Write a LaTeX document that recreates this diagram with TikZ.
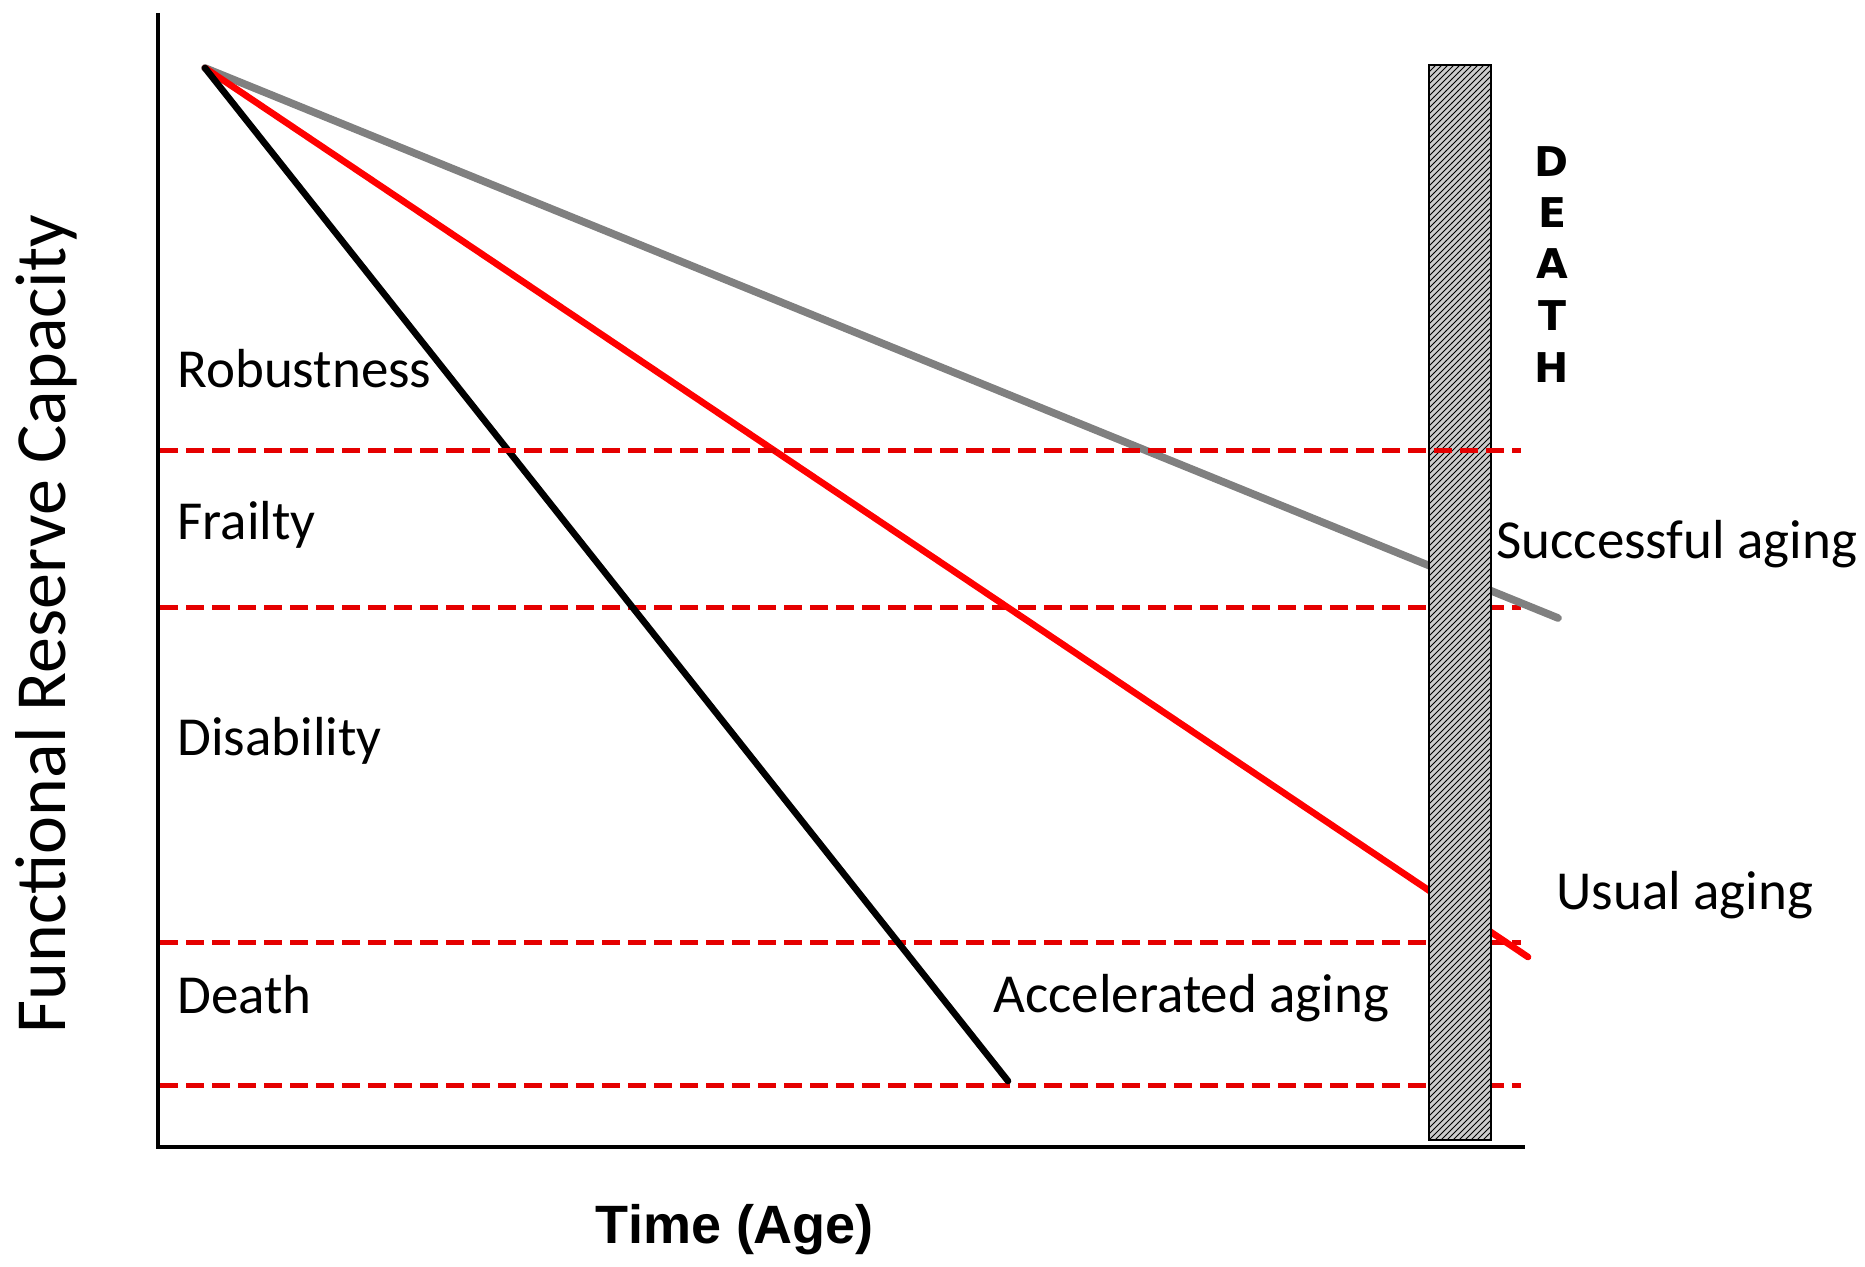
\documentclass[tikz,border=0pt]{standalone}
\usepackage{fontspec}
\setmainfont{Carlito}
\newfontfamily\arialfont{Liberation Sans}
\newfontfamily\dejafont{DejaVu Sans}
\usetikzlibrary{patterns}

\tikzset{
  zoneline/.style={draw=red!90!black, line width=2.5pt, dash pattern=on 9pt off 4pt},
  agingline/.style={line width=3.3pt, line cap=round},
  lbl/.style={inner sep=0pt, anchor=base west, font=\fontsize{27.5}{33}\selectfont},
  deathletter/.style={inner sep=0pt, font=\dejafont\bfseries\fontsize{20.5}{25}\selectfont},
  deathbar/.style={line width=1.2pt, preaction={fill=gray!40}, pattern=north east lines, pattern color=black},
}

\begin{document}
\begin{tikzpicture}[x=0.5pt, y=-0.5pt]
    \useasboundingbox (0,0) rectangle (1865,1267);

    %% Functional reserve over the life course
    % Axes
    \coordinate (ytop) at (158,13);
    \coordinate (orig) at (158,1147);
    \coordinate (xend) at (1525,1147);
    \draw[line width=2.4pt] (ytop) -- (orig) -- (xend);

    % Zone borders (the top one is drawn over the bar)
    \foreach \y in {608,942,1085}
        \draw[zoneline] (160,\y) -- (1521,\y);

    % Aging trajectories
    \coordinate (top) at (205,68);
    \coordinate (succend) at (1558,618);
    \coordinate (usualend) at (1528,957);
    \coordinate (accelend) at (1008,1081);
    \draw[agingline, line width=3.8pt, gray] (top) -- (succend);
    \draw[agingline, red] (top) -- (usualend);
    \draw[agingline, black] (top) -- (accelend);

    % Death bar
    \draw[deathbar] (1429,65) rectangle (1491,1140);
    \draw[zoneline] (160,451) -- (1521,451);

    % Zone names
    \node[lbl] (robust) at (177,388) {Robustness};
    \node[lbl] (frail) at (177,540) {Frailty};
    \node[lbl] (disab) at (177,755) {Disability};
    \node[lbl] (dead) at (177,1013) {Death};

    % Trajectory names
    \node[lbl] (accel) at (993,1012) {Accelerated aging};
    \node[lbl] (succ) at (1496,559) {Successful aging};
    \node[lbl] (usual) at (1556,909) {Usual aging};

    % DEATH, one letter under the other
    \foreach \l/\y in {D/162, E/213, A/264, T/316, H/368}
        \node[deathletter] (death\l) at (1552,\y) {\l};

    % Axis titles
    \node[inner sep=0pt, anchor=base, font=\arialfont\bfseries\fontsize{27}{32}\selectfont] (time) at (735,1243) {Time (Age)};
    \node[inner sep=0pt, rotate=90, font=\fontsize{36}{43}\selectfont] (frc) at (46,624) {Functional Reserve Capacity};

\end{tikzpicture}
\end{document}
